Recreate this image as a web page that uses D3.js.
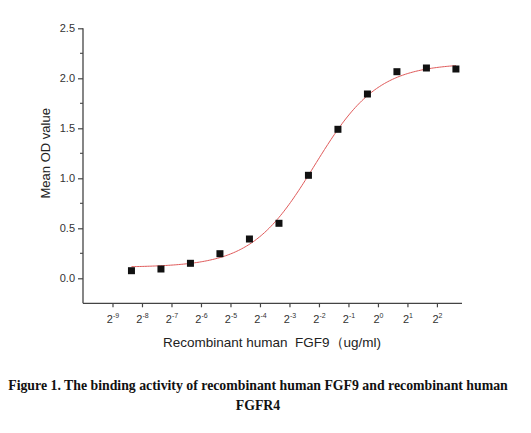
<!DOCTYPE html>
<html>
<head>
<meta charset="utf-8">
<script src="https://cdnjs.cloudflare.com/ajax/libs/d3/7.8.5/d3.min.js"></script>
<style>
  body { margin: 0; background: #fff; }
  svg { display: block; }
</style>
</head>
<body>
<div id="chart"></div>
<script>
// concentrations, ug/ml (2-fold serial dilution from 6.25)
var concentrations = [0.00305, 0.0061, 0.0122, 0.0244, 0.0488, 0.0977, 0.1953, 0.3906, 0.7813, 1.5625, 3.125, 6.25];
var odValues = [0.076, 0.093, 0.15, 0.246, 0.393, 0.55, 1.03, 1.49, 1.843, 2.066, 2.103, 2.093];
// x tick exponents (base 2)
var xTickExps = [-9, -8, -7, -6, -5, -4, -3, -2, -1, 0, 1, 2];
var yTicks = [0.0, 0.5, 1.0, 1.5, 2.0, 2.5];
// 4PL fit: bottom, top, log2 EC50, hill slope (per log2 unit)
var fitParams = [0.11, 2.15, -2.146, 1.345];

var W = 531, H = 433;
var svg = d3.select("#chart").append("svg")
    .attr("width", W).attr("height", H);

var x = d3.scaleLinear().domain([-10, 2.85]).range([83, 462]);
var y = d3.scaleLinear().domain([-0.25, 2.5]).range([303.3, 28.3]);

var axisColor = "#444";
var font = "'Liberation Sans', Arial, sans-serif";

// y axis
var yAxis = d3.axisLeft(y).tickValues(yTicks).tickSize(5)
    .tickFormat(d3.format(".1f"));
var gy = svg.append("g").attr("transform", "translate(83,0)").call(yAxis);
gy.select(".domain").remove();
gy.append("line").attr("x1", 0).attr("x2", 0)
    .attr("y1", y(2.5)).attr("y2", y(-0.25))
    .attr("stroke", axisColor).attr("stroke-width", 1.3);
gy.selectAll(".tick line").attr("stroke", axisColor).attr("stroke-width", 1.2);
gy.selectAll(".tick text").attr("font-family", font).attr("font-size", 11)
    .attr("fill", "#333").attr("x", -8);
// minor ticks
var minor = d3.range(0.25, 2.5, 0.5);
gy.selectAll(".minor").data(minor).enter().append("line")
    .attr("x1", -3).attr("x2", 0)
    .attr("y1", function(d) { return y(d); })
    .attr("y2", function(d) { return y(d); })
    .attr("stroke", axisColor).attr("stroke-width", 1.1);

// x axis
var xAxis = d3.axisBottom(x).tickValues(xTickExps).tickSize(4).tickFormat("");
var gx = svg.append("g").attr("transform", "translate(0,303.3)").call(xAxis);
gx.select(".domain").remove();
gx.append("line").attr("x1", x(-10)).attr("x2", x(2.85))
    .attr("y1", 0).attr("y2", 0)
    .attr("stroke", axisColor).attr("stroke-width", 1.3);
gx.selectAll(".tick line").attr("stroke", axisColor).attr("stroke-width", 1.2);
gx.selectAll(".tick").each(function(d) {
    var t = d3.select(this).append("text")
        .attr("y", 20).attr("text-anchor", "middle")
        .attr("font-family", font).attr("font-size", 11).attr("fill", "#333");
    t.append("tspan").text("2");
    t.append("tspan").attr("dy", -5).attr("font-size", 7).text(d);
});

// axis titles
svg.append("text")
    .attr("transform", "translate(50," + y(1.25) + ") rotate(-90)")
    .attr("text-anchor", "middle")
    .attr("font-family", font).attr("font-size", 13).attr("fill", "#222")
    .text("Mean OD value");
svg.append("text")
    .attr("x", 272).attr("y", 347)
    .attr("text-anchor", "middle")
    .attr("font-family", font).attr("font-size", 13.5).attr("fill", "#222")
    .attr("xml:space", "preserve")
    .text("Recombinant human  FGF9\uFF08ug/ml)");

// fitted curve
function fit(lx) {
    var b = fitParams[0], t = fitParams[1], c = fitParams[2], s = fitParams[3];
    return b + (t - b) / (1 + Math.pow(2, (c - lx) * s));
}
var lx0 = Math.log2(concentrations[0]), lx1 = Math.log2(concentrations[concentrations.length - 1]);
var curvePts = d3.range(0, 201).map(function(i) { return lx0 + (lx1 - lx0) * i / 200; });
svg.append("path")
    .datum(curvePts)
    .attr("fill", "none").attr("stroke", "#e05a5a").attr("stroke-width", 1)
    .attr("d", d3.line()
        .x(function(d) { return x(d); })
        .y(function(d) { return y(fit(d)); }));

// data points
var pts = concentrations.map(function(c, i) { return { lx: Math.log2(c), v: odValues[i] }; });
svg.selectAll(".pt").data(pts).enter().append("rect")
    .attr("x", function(d) { return x(d.lx) - 3.5; })
    .attr("y", function(d) { return y(d.v) - 3.5; })
    .attr("width", 7).attr("height", 7)
    .attr("fill", "#111");

// caption
var cap = svg.append("g").attr("font-family", "'Liberation Serif', 'Times New Roman', serif")
    .attr("font-weight", "bold").attr("font-size", 13.8).attr("fill", "#111")
    .attr("text-anchor", "middle");
cap.append("text").attr("x", 258).attr("y", 390)
    .text("Figure 1. The binding activity of recombinant human FGF9 and recombinant human");
cap.append("text").attr("x", 258).attr("y", 410).text("FGFR4");
</script>
</body>
</html>
